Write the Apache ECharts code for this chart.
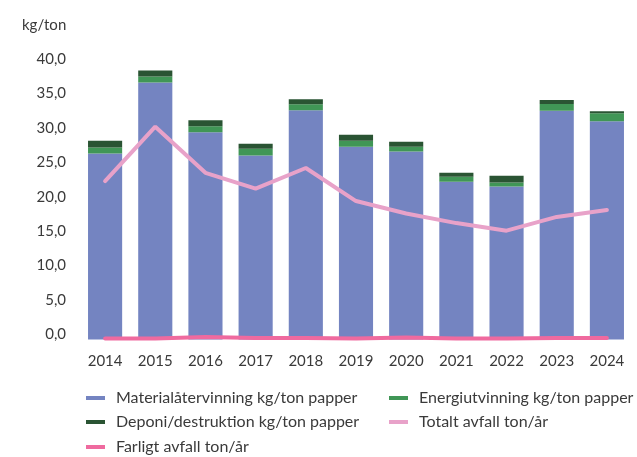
<!DOCTYPE html>
<html><head><meta charset="utf-8">
<script src="https://cdn.jsdelivr.net/npm/echarts@6/dist/echarts.min.js"></script>
<style>html,body{margin:0;padding:0;background:#fff}#c{width:637px;height:457px}</style>
</head><body><div id="c"></div>
<script>
const years = ['2014','2015','2016','2017','2018','2019','2020','2021','2022','2023','2024'];
const material = [27.0, 37.3, 30.1, 26.7, 33.3, 28.0, 27.3, 22.9, 22.2, 33.2, 31.7];
const energi = [0.87, 0.87, 0.87, 1.0, 0.87, 0.87, 0.68, 0.72, 0.58, 1.0, 1.16];
const deponi = [1.0, 0.87, 0.87, 0.72, 0.72, 0.87, 0.72, 0.58, 1.0, 0.58, 0.29];
const totalt = [23.0, 30.9, 24.2, 21.9, 24.9, 20.1, 18.3, 16.9, 15.8, 17.8, 18.8];
const farligt = [0.15, 0.15, 0.35, 0.2, 0.2, 0.15, 0.3, 0.15, 0.15, 0.2, 0.2];
const yTicks = [0, 5, 10, 15, 20, 25, 30, 35, 40];
const names = ['Materialåtervinning kg/ton papper','Energiutvinning kg/ton papper','Deponi/destruktion kg/ton papper','Totalt avfall ton/år','Farligt avfall ton/år'];
const colors = ['#7484C1','#409656','#2A5433','#E8A2C9','#EF6A9F'];
const font = 'Lato';
const txt = '#3a3a3a';
const legendPos = [[86,390],[389,390],[86,414],[389,414],[86,439]];
const chart = echarts.init(document.getElementById('c'));
chart.setOption({
  animation:false,
  textStyle:{fontFamily:font},
  title:{text:'kg/ton',left:17,top:13,textStyle:{fontFamily:font,fontSize:15,fontWeight:'normal',color:txt}},
  grid:{left:80,right:5,top:64,bottom:117.5},
  legend: names.map((n,i)=>({data:[{name:n,icon:'rect',itemStyle:{color:colors[i]}}],left:legendPos[i][0],top:legendPos[i][1],padding:0,itemWidth:19,itemHeight:4,itemGap:12,textStyle:{fontFamily:font,fontSize:16,color:txt,padding:[0,0,0,6]}})),
  xAxis:{type:'category',data:years,axisLine:{show:false},axisTick:{show:false},axisLabel:{fontFamily:font,fontSize:15,color:txt,margin:14}},
  yAxis:{type:'value',min:0,max:40,interval:5,splitLine:{show:false},axisLine:{show:false},axisTick:{show:false},
    axisLabel:{fontFamily:font,fontSize:15,color:txt,margin:14,verticalAlign:'bottom',lineHeight:10,formatter:v=>yTicks.includes(v)?v.toFixed(1).replace('.',','):''}},
  series:[
    {name:names[0],type:'bar',stack:'a',data:material,barCategoryGap:'32%',itemStyle:{color:colors[0]}},
    {name:names[1],type:'bar',stack:'a',data:energi,itemStyle:{color:colors[1]}},
    {name:names[2],type:'bar',stack:'a',data:deponi,itemStyle:{color:colors[2]}},
    {name:names[3],type:'line',data:totalt,symbol:'none',lineStyle:{width:4,color:colors[3],cap:'round'},itemStyle:{color:colors[3]}},
    {name:names[4],type:'line',data:farligt,symbol:'none',lineStyle:{width:4,color:colors[4],cap:'round'},itemStyle:{color:colors[4]}}
  ]
});
</script></body></html>
